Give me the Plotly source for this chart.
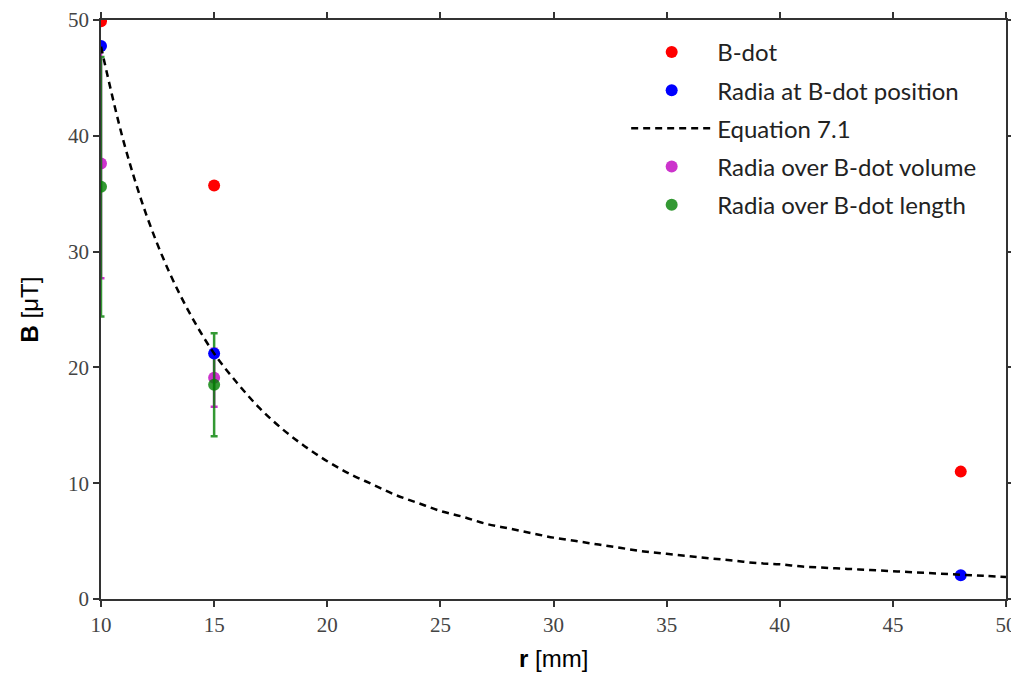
import plotly.graph_objects as go

# Data
bdot_r = [10, 15, 48]
bdot_B = [49.9, 35.7, 11.0]

radia_r = [10, 15, 48]
radia_B = [47.75, 21.2, 2.05]

eq_r = list(range(10, 51))
eq_B = [47.7, 39.5, 33.2, 28.3, 24.4, 21.2, 18.7, 16.5, 14.7, 13.2,
        11.9, 10.8, 9.9, 9.0, 8.3, 7.6, 7.1, 6.5, 6.1, 5.7,
        5.3, 5.0, 4.7, 4.4, 4.1, 3.9, 3.7, 3.5, 3.3, 3.1,
        3.0, 2.8, 2.7, 2.6, 2.5, 2.4, 2.3, 2.2, 2.1, 2.0, 1.9]

vol_r = [10, 15]
vol_B = [37.6, 19.1]
vol_err = [9.9, 2.5]

len_r = [10, 15]
len_B = [35.6, 18.5]
len_err = [11.2, 4.45]

x_ticks = [10, 15, 20, 25, 30, 35, 40, 45, 50]
y_ticks = [0, 10, 20, 30, 40, 50]

MAG = "rgba(191,0,191,0.8)"
GRN = "rgba(0,128,0,0.8)"
MS = 12

fig = go.Figure()
fig.add_trace(go.Scatter(
    x=vol_r, y=vol_B, mode="markers", name="Radia over B-dot volume",
    marker=dict(color=MAG, size=MS),
    error_y=dict(type="data", array=vol_err, color=MAG, thickness=2.5, width=3.5),
    legendrank=4, legendgroup="d"))
fig.add_trace(go.Scatter(
    x=len_r, y=len_B, mode="markers", name="Radia over B-dot length",
    marker=dict(color=GRN, size=MS),
    error_y=dict(type="data", array=len_err, color=GRN, thickness=2.5, width=3.5),
    legendrank=5, legendgroup="e"))
fig.add_trace(go.Scatter(
    x=bdot_r, y=bdot_B, mode="markers", name="B-dot",
    marker=dict(color="#ff0000", size=MS), legendrank=1, legendgroup="a"))
fig.add_trace(go.Scatter(
    x=radia_r, y=radia_B, mode="markers", name="Radia at B-dot position",
    marker=dict(color="#0000ff", size=MS), legendrank=2, legendgroup="b"))
fig.add_trace(go.Scatter(
    x=eq_r, y=eq_B, mode="lines", name="Equation 7.1",
    line=dict(color="black", width=2.5, dash="7px,5px", shape="spline"),
    legendrank=3, legendgroup="c"))

axis_common = dict(
    showline=True, linecolor="#333", linewidth=1.5, mirror="allticks",
    ticks="outside", ticklen=6, tickwidth=1.5, tickcolor="#333",
    showgrid=False, zeroline=False, automargin=False,
    tickfont=dict(family="Liberation Serif", size=21, color="#444"),
)

fig.update_layout(
    width=1011, height=666,
    margin=dict(l=93, r=13, t=12, b=75),
    paper_bgcolor="white", plot_bgcolor="white",
    xaxis=dict(range=[10, 50], tickvals=x_ticks, **axis_common),
    yaxis=dict(range=[0, 50], tickvals=y_ticks, **axis_common),
    legend=dict(x=0.5803, y=0.983, xanchor="left", yanchor="top",
                bgcolor="rgba(0,0,0,0)", traceorder="grouped", tracegroupgap=4,
                font=dict(family="Lato", size=24, color="#222"), itemwidth=81),
    showlegend=True,
    annotations=[
        dict(text="<b>r</b> [mm]", xref="paper", yref="paper", x=0.5, y=-0.1036,
             xanchor="center", yanchor="middle", showarrow=False,
             font=dict(family="Liberation Sans", size=24, color="black")),
        dict(text="<b>B</b> [μT]", xref="paper", yref="paper", x=-0.0785, y=0.5,
             xanchor="center", yanchor="middle", showarrow=False, textangle=-90,
             font=dict(family="Liberation Sans", size=24, color="black")),
    ],
)

fig.write_html("out.html")
